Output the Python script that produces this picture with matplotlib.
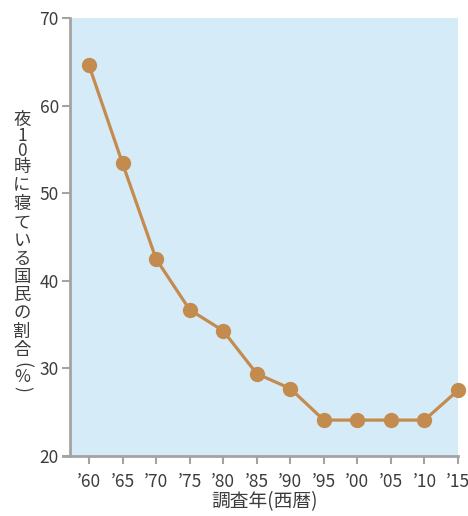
import matplotlib
matplotlib.use("Agg")
import matplotlib.pyplot as plt

plt.rcParams['font.family'] = ['Noto Sans CJK JP', 'DejaVu Sans']

# survey years and share of people asleep by 10 pm (%)
years = [1960, 1965, 1970, 1975, 1980, 1985, 1990, 1995, 2000, 2005, 2010, 2015]
share = [64.6, 53.4, 42.5, 36.7, 34.3, 29.4, 27.7, 24.1, 24.1, 24.1, 24.1, 27.5]
year_labels = ["’60", "’65", "’70", "’75", "’80", "’85", "’90", "’95", "’00", "’05", "’10", "’15"]
y_ticks = [20, 30, 40, 50, 60, 70]

ylabel_chars = ["夜", "1", "0", "時", "に", "寝", "て", "い", "る", "国", "民", "の", "割", "合", "(", "%", ")"]

text_color = "#3c3c3c"
axis_color = "#a3a3a3"
line_color = "#c48b4f"

fig = plt.figure(figsize=(4.68, 5.16), dpi=100)
ax = fig.add_axes([70 / 468, 1 - 456 / 516, 388 / 468, 438 / 516])
ax.set_facecolor("#d5ebf8")

ax.plot(years, share, color=line_color, lw=2.3, marker="o", markersize=10,
        clip_on=False, zorder=3)

ax.set_xlim(1957.17, 2015)
ax.set_ylim(20, 70)
ax.set_xticks(years)
ax.set_xticklabels(year_labels)
ax.set_yticks(y_ticks)

for side in ["top", "right"]:
    ax.spines[side].set_visible(False)
for side in ["left", "bottom"]:
    ax.spines[side].set_color(axis_color)
    ax.spines[side].set_linewidth(2)
ax.spines["bottom"].set_bounds(1956.1, 2015)

ax.tick_params(axis="both", colors=axis_color, length=6, width=1.5,
               labelcolor=text_color, labelsize=12.5)
ax.tick_params(axis="x", pad=6)
ax.tick_params(axis="y", pad=2)

ax.set_xlabel("調査年(西暦)", fontsize=13.5, color=text_color, labelpad=0)

# vertical stacked y label: full-width glyphs take a longer step than digits,
# brackets are turned sideways as in vertical writing
def advance(ch):
    if ch.isdigit():
        return 14.5
    if ch in "()":
        return 12
    if ch == "%":
        return 11
    return 18.3

y = 120.0
prev = None
for ch in ylabel_chars:
    if prev is not None:
        y += (advance(prev) + advance(ch)) / 2
    fig.text(22 / 468, 1 - y / 516, ch, ha="center", va="center",
             rotation=-90 if ch in "()" else 0,
             fontsize=12.5, color=text_color)
    prev = ch

fig.savefig("out.png", dpi=100)
